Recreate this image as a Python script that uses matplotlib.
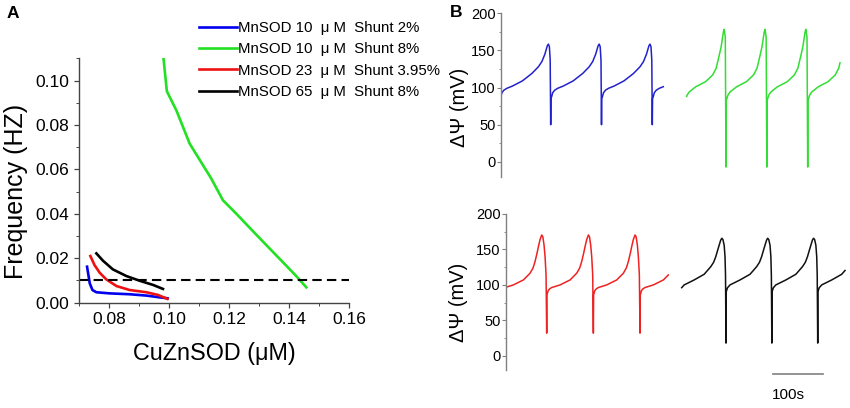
import numpy as np
import matplotlib
matplotlib.use("Agg")
from matplotlib import pyplot as plt
from matplotlib.ticker import MultipleLocator

plt.rcParams['font.family'] = ['Liberation Sans', 'DejaVu Sans']

# ---- panel A: oscillation frequency vs CuZnSOD ----
blue_x = [0.0727, 0.0736, 0.0745, 0.0758, 0.0802, 0.0869, 0.0925, 0.0969, 0.0995]
blue_y = [0.0162, 0.0087, 0.0057, 0.0047, 0.0042, 0.0038, 0.0032, 0.0024, 0.0020]
green_x = [0.0982, 0.0993, 0.1025, 0.1069, 0.1141, 0.1180, 0.1225, 0.1287, 0.1360, 0.1425, 0.1458]
green_y = [0.1097, 0.0952, 0.0865, 0.0716, 0.0559, 0.0461, 0.0400, 0.0312, 0.0210, 0.0119, 0.0069]
red_x = [0.0738, 0.0752, 0.0769, 0.0791, 0.0825, 0.0869, 0.0925, 0.0963, 0.0995]
red_y = [0.0210, 0.0169, 0.0135, 0.0105, 0.0075, 0.0057, 0.0047, 0.0035, 0.0017]
black_x = [0.0758, 0.0780, 0.0813, 0.0858, 0.0902, 0.0947, 0.0980]
black_y = [0.0222, 0.0189, 0.0150, 0.0120, 0.0099, 0.0080, 0.0062]
threshold = 0.01
legend_labels = ["MnSOD 10  \u03bc M  Shunt 2%",
                 "MnSOD 10  \u03bc M  Shunt 8%",
                 "MnSOD 23  \u03bc M  Shunt 3.95%",
                 "MnSOD 65  \u03bc M  Shunt 8%"]

# ---- panel B: one cycle of each trace, time (s) after the spike bottom ----
blue_cyc_t = [0, 0.5, 2, 4, 8, 14, 25, 45, 64, 77, 84, 90, 93, 95, 97, 99, 100.6]
blue_cyc_v = [50, 85, 88, 93, 96.5, 99, 102, 109, 119, 128, 135, 145, 152, 156.5, 158.5, 155, 137]
blue_period, blue_first, blue_span = 101.6, 99.4, (0, 324.6)

green_cyc_t = [0, 0.7, 4, 8, 21, 41, 55, 62, 68, 72, 74.5, 76.5, 78, 80.3]
green_cyc_v = [-7, 83, 90, 94, 101, 108, 117, 126, 143, 155, 166, 175, 178.4, 168]
green_period, green_first, green_span = 81.7, 450, (371.4, 678)

red_cyc_t = [0, 0.5, 3, 6, 10, 26.7, 46.7, 60, 66, 70, 74, 77, 80, 83.3, 85.5, 88, 90, 92]
red_cyc_v = [32, 86, 92, 94.5, 96.3, 100, 107, 116.5, 124, 133, 145, 155, 164, 170.4, 168, 156, 140, 114]
red_period, red_first, red_span = 93.3, 81.4, (0, 324.6)

black_cyc_t = [0, 0.5, 3, 8, 28, 48, 61.3, 67, 71.3, 75, 78, 81, 83.3, 85.5, 88, 89.7, 90.7]
black_cyc_v = [18, 90.6, 96, 100, 107, 115, 125.8, 132, 140, 149, 156, 163, 165.8, 164, 156, 140, 114]
black_period, black_first, black_span = 91.7, 440, (351.4, 678)


def build_trace(cyc_t, cyc_v, period, first_spike, span):
    # repeat the read cycle at each spike, then cut to the shown window
    cyc_t = np.asarray(cyc_t, float)
    t = np.concatenate([cyc_t + first_spike + k * period for k in range(-1, 4)])
    v = np.tile(np.asarray(cyc_v, float), 5)
    t0, t1 = span
    keep = (t > t0) & (t < t1)
    tt = np.r_[t0, t[keep], t1]
    vv = np.r_[np.interp(t0, t, v), v[keep], np.interp(t1, t, v)]
    return tt, vv


def style_trace_axis(ax):
    for side in ("top", "right", "bottom"):
        ax.spines[side].set_visible(False)
    ax.spines["left"].set_color("#808080")
    ax.spines["left"].set_linewidth(1.0)
    ax.set_xlim(0, 690)
    ax.set_ylim(-20, 200)
    ax.set_xticks([])
    ax.yaxis.set_major_locator(MultipleLocator(50))
    ax.yaxis.set_minor_locator(MultipleLocator(25))
    ax.tick_params(axis="y", which="major", length=3, width=0.8, color="#808080",
                   labelsize=10.5, pad=0.8)
    ax.tick_params(axis="y", which="minor", length=1.5, width=0.6, color="#808080")
    ax.set_ylabel("\u0394\u03a8 (mV)", fontsize=14.5)


fig = plt.figure(figsize=(8.5, 4.08), dpi=100)

# panel A
ax_a = fig.add_axes([0.0929, 0.2581, 0.3176, 0.5989])
ax_a.plot(blue_x, blue_y, color="#0000ee", lw=1.9, label=legend_labels[0])
ax_a.plot(green_x, green_y, color="#22e022", lw=1.9, label=legend_labels[1])
ax_a.plot(red_x, red_y, color="#ee1111", lw=1.9, label=legend_labels[2])
ax_a.plot(black_x, black_y, color="black", lw=1.9, label=legend_labels[3])
ax_a.axhline(threshold, color="black", lw=1.5, dashes=(4.5, 2.5))
ax_a.set_xlim(0.07, 0.16)
ax_a.set_ylim(0, 0.11)
ax_a.xaxis.set_minor_locator(MultipleLocator(0.01))
ax_a.yaxis.set_minor_locator(MultipleLocator(0.01))
ax_a.set_xticks([0.08, 0.10, 0.12, 0.14, 0.16])
ax_a.set_xticklabels(["0.08", "0.10", "0.12", "0.14", "0.16"])
ax_a.set_yticks([0.0, 0.02, 0.04, 0.06, 0.08, 0.10])
ax_a.set_yticklabels(["0.00", "0.02", "0.04", "0.06", "0.08", "0.10"])
for side in ("top", "right"):
    ax_a.spines[side].set_visible(False)
for side in ("left", "bottom"):
    ax_a.spines[side].set_color("#444444")
    ax_a.spines[side].set_linewidth(1.0)
ax_a.tick_params(which="major", length=3.5, width=0.9, color="#444444", labelsize=12.5)
ax_a.tick_params(which="minor", length=2, width=0.7, color="#444444")
ax_a.set_xlabel("CuZnSOD (\u03bcM)", fontsize=16.8)
ax_a.xaxis.set_label_coords(0.5, -0.162)
ax_a.set_ylabel("Frequency (HZ)", fontsize=18)
ax_a.yaxis.set_label_coords(-0.19, 0.457)
ax_a.legend(loc="upper left", bbox_to_anchor=(199 / 850, 1 - 21 / 408),
            bbox_transform=fig.transFigure, frameon=False, fontsize=10.8,
            handlelength=2.5, handletextpad=0.1, labelspacing=0.49,
            borderpad=0, borderaxespad=0)

# panel B
ax_top = fig.add_axes([0.5894, 0.5669, 0.4059, 0.4005])
ax_bot = fig.add_axes([0.5953, 0.0931, 0.4059, 0.3824])
style_trace_axis(ax_top)
style_trace_axis(ax_bot)
ax_top.yaxis.set_label_coords(-0.093, 0.427)
ax_bot.yaxis.set_label_coords(-0.11, 0.436)

t, v = build_trace(blue_cyc_t, blue_cyc_v, blue_period, blue_first, blue_span)
ax_top.plot(t, v, color="#2222cc", lw=1.1)
t, v = build_trace(green_cyc_t, green_cyc_v, green_period, green_first, green_span)
ax_top.plot(t, v, color="#33dd33", lw=1.1)
t, v = build_trace(red_cyc_t, red_cyc_v, red_period, red_first, red_span)
ax_bot.plot(t, v, color="#ee2222", lw=1.1)
t, v = build_trace(black_cyc_t, black_cyc_v, black_period, black_first, black_span)
ax_bot.plot(t, v, color="#111111", lw=1.1)

# 100 s scale bar
ax_bot.plot([534, 634], [-25.3, -25.3], color="#808080", lw=1.2, clip_on=False)
ax_bot.text(531, -55, "100s", fontsize=11, ha="left", va="center")

fig.text(7 / 850, 1 - 14 / 408, "A", fontsize=12.5, fontweight="bold", va="center")
fig.text(450 / 850, 1 - 12.5 / 408, "B", fontsize=12.5, fontweight="bold", va="center")

fig.savefig("out.png", dpi=100)
